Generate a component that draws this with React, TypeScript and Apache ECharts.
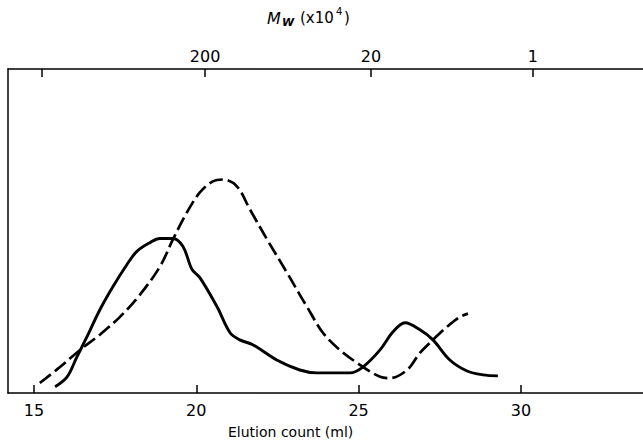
import React, { useEffect, useRef } from "react";
import * as echarts from "echarts";

// Solid curve (elution count ml, relative detector response)
const solidX = [15.65, 16.02, 16.32, 16.63, 17.03, 17.43, 17.86, 18.17, 18.57, 18.88, 19.28, 19.59, 19.87, 20.11, 20.64, 21.04, 21.34, 21.74, 22.48, 23.19, 23.72, 24.21, 24.73, 25.13, 25.66, 26.06, 26.43, 26.89, 27.29, 27.81, 28.34, 28.83, 29.29];
const solidY = [1.9, 4.95, 11.1, 17.3, 25.7, 32.8, 39.6, 43.7, 46.4, 47.7, 47.7, 45.2, 38.1, 35.6, 26.6, 18.6, 16.4, 14.9, 10.2, 7.1, 6.2, 6.2, 6.2, 8.0, 13.3, 18.9, 21.7, 19.5, 16.4, 10.2, 6.8, 5.6, 5.3];

// Dashed curve
const dashedX = [15.18, 15.8, 16.42, 17.03, 17.65, 18.26, 18.88, 19.28, 19.71, 20.11, 20.51, 20.82, 21.25, 21.65, 22.18, 22.79, 23.19, 23.41, 23.9, 24.42, 25.04, 25.66, 25.96, 26.49, 26.89, 27.29, 27.72, 28.12, 28.37];
const dashedY = [3.1, 8.0, 13.3, 18.0, 23.5, 30.3, 39.0, 47.4, 55.7, 61.9, 65.3, 65.9, 63.8, 56.7, 47.4, 37.2, 30.3, 26.6, 18.6, 13.3, 8.7, 5.0, 4.6, 7.1, 12.4, 16.4, 20.4, 23.5, 24.5];

// Bottom axis ticks
const bottomTicks = [15, 20, 25, 30];
// Top axis (molecular weight, x10^4) ticks, positioned on the elution scale
const topTickPos = [15.25, 20.27, 25.38, 30.37];
const topTickLabels = ["", "200", "20", "1"];

const X_MIN = 14.2;
const X_MAX = 33.76;

const FONT = "DejaVu Sans";

export default function App() {
  const ref = useRef<HTMLDivElement>(null);
  useEffect(() => {
    if (!ref.current) return;
    const chart = echarts.init(ref.current, undefined, { renderer: "svg" });
    const solid = solidX.map((x, i) => [x, solidY[i]]);
    const dashed = dashedX.map((x, i) => [x, dashedY[i]]);
    chart.setOption({
      animation: false,
      backgroundColor: "#ffffff",
      grid: { left: 8, right: 0, top: 69, bottom: 50 },
      xAxis: [
        {
          type: "value",
          position: "bottom",
          min: X_MIN,
          max: X_MAX,
          axisLine: { show: true, lineStyle: { color: "#000", width: 1.5 } },
          axisTick: { show: true, inside: true, length: 8, customValues: bottomTicks, lineStyle: { color: "#000", width: 1.5 } },
          axisLabel: { show: true, customValues: bottomTicks, color: "#000", fontSize: 16, fontFamily: FONT, margin: 9 },
          splitLine: { show: false },
        },
        {
          type: "value",
          position: "top",
          min: X_MIN,
          max: X_MAX,
          axisLine: { show: true, lineStyle: { color: "#000", width: 1.5 } },
          axisTick: { show: true, inside: true, length: 8, customValues: topTickPos, lineStyle: { color: "#000", width: 1.5 } },
          axisLabel: {
            show: true,
            customValues: topTickPos,
            color: "#000",
            fontSize: 16,
            fontFamily: FONT,
            margin: 5,
            formatter: (v: number) => {
              let best = 0;
              topTickPos.forEach((p, i) => {
                if (Math.abs(p - v) < Math.abs(topTickPos[best] - v)) best = i;
              });
              return topTickLabels[best];
            },
          },
          splitLine: { show: false },
        },
      ],
      yAxis: {
        type: "value",
        min: 0,
        max: 100,
        axisLine: { show: true, lineStyle: { color: "#000", width: 1.5 } },
        axisTick: { show: false },
        axisLabel: { show: false },
        splitLine: { show: false },
      },
      series: [
        {
          type: "line",
          data: solid,
          smooth: 0.35,
          symbol: "none",
          lineStyle: { color: "#000", width: 2.9 },
        },
        {
          type: "line",
          data: dashed,
          smooth: 0.35,
          symbol: "none",
          lineStyle: { color: "#000", width: 2.7, type: [14, 5] },
        },
      ],
      graphic: [
        { type: "text", left: 228, top: 425, style: { text: "Elution count (ml)", fontSize: 14, fontFamily: FONT, fill: "#000" } },
        { type: "text", x: 267, y: 10, style: { text: "M", fontSize: 16, fontStyle: "italic", fontFamily: FONT, fill: "#000" } },
        { type: "text", x: 282, y: 17, style: { text: "W", fontSize: 11, fontStyle: "italic", fontWeight: "bold", fontFamily: FONT, fill: "#000" } },
        { type: "text", x: 300, y: 10, style: { text: "(x10", fontSize: 15, fontFamily: FONT, fill: "#000" } },
        { type: "text", x: 336, y: 6, style: { text: "4", fontSize: 10, fontFamily: FONT, fill: "#000" } },
        { type: "text", x: 344, y: 10, style: { text: ")", fontSize: 15, fontFamily: FONT, fill: "#000" } },
      ],
    });
    return () => chart.dispose();
  }, []);
  return <div ref={ref} style={{ width: 643, height: 443, position: "absolute", left: 0, top: 0 }} />;
}
